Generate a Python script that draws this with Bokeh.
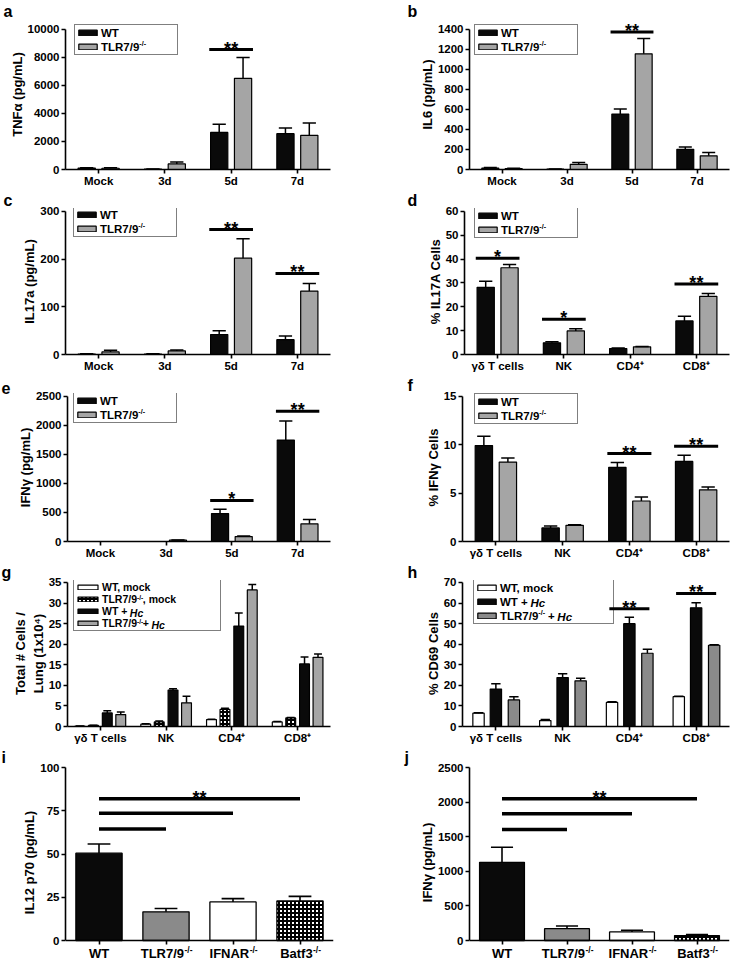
from bokeh.plotting import figure
from bokeh.layouts import column, row
from bokeh.models import Range1d, FixedTicker, Legend, LegendItem, Label
from bokeh.embed import file_html
from bokeh.resources import INLINE

# ---------------- data ----------------
time_cats = ["Mock", "3d", "5d", "7d"]
cell_cats = ["γδ T cells", "NK", "CD4⁺", "CD8⁺"]
geno_cats = ["WT", "TLR7/9", "IFNAR", "Batf3"]
geno_sup = ["", "-/-", "-/-", "-/-"]

# a  TNFα (pg/mL)
a_wt = [100, 30, 2650, 2560]
a_wt_err = [30, 10, 580, 400]
a_ko = [90, 400, 6510, 2440]
a_ko_err = [30, 130, 1490, 880]
a_sig = [(3, 8560, "**")]

# b  IL6 (pg/mL)
b_wt = [15, 3, 554, 202]
b_wt_err = [5, 1, 50, 23]
b_ko = [10, 52, 1156, 137]
b_ko_err = [3, 18, 153, 32]
b_sig = [(3, 1374, "**")]

# c  IL17a (pg/mL)
c_wt = [1, 1, 42, 31]
c_wt_err = [0.5, 0.5, 8, 8]
c_ko = [5.5, 7.5, 202, 133]
c_ko_err = [3.5, 2, 41, 16]
c_sig = [(3, 262, "**"), (4, 170, "**")]

# d  % IL17A cells
d_wt = [28.2, 4.9, 2.5, 14.1]
d_wt_err = [2.5, 0.4, 0.2, 1.9]
d_ko = [36.4, 9.9, 3.2, 24.4]
d_ko_err = [1.4, 0.9, 0.2, 1.2]
d_sig = [(1, 40.4, "*"), (2, 14.8, "*"), (4, 29.6, "**")]

# e  IFNγ (pg/mL)
e_wt = [0, 0, 481, 1748]
e_wt_err = [0, 0, 73, 328]
e_ko = [0, 22, 85, 305]
e_ko_err = [0, 5, 10, 74]
e_sig = [(3, 707, "*"), (4, 2245, "**")]

# f  % IFNγ cells
f_wt = [9.92, 1.4, 7.67, 8.28]
f_wt_err = [0.96, 0.2, 0.51, 0.65]
f_ko = [8.22, 1.67, 4.19, 5.35]
f_ko_err = [0.41, 0.07, 0.41, 0.28]
f_sig = [(3, 9.1, "**"), (4, 9.85, "**")]

# g  Total # cells / lung (1x10^4)
g_wt_mock = [0.1, 0.56, 1.68, 1.1]
g_wt_mock_err = [0.03, 0.08, 0.1, 0.1]
g_ko_mock = [0.25, 1.1, 4.15, 2.08]
g_ko_mock_err = [0.05, 0.26, 0.3, 0.1]
g_wt_hc = [3.3, 8.87, 24.4, 15.2]
g_wt_hc_err = [0.55, 0.33, 3.2, 1.7]
g_ko_hc = [2.9, 5.75, 33.2, 16.8]
g_ko_hc_err = [0.6, 1.6, 1.3, 0.8]

# h  % CD69 cells
h_wt_mock = [6.5, 2.9, 11.7, 14.5]
h_wt_mock_err = [0.2, 0.5, 0.3, 0.2]
h_wt_hc = [18.2, 23.8, 50.0, 57.7]
h_wt_hc_err = [2.6, 1.8, 3.1, 2.5]
h_ko_hc = [12.9, 22.2, 35.6, 39.5]
h_ko_hc_err = [1.5, 1.3, 2.0, 0.2]
h_sig = [(3, 57.2, "**"), (4, 64.7, "**")]

# i  IL12 p70 (pg/mL)
i_vals = [50.5, 16.6, 22.3, 22.9]
i_err = [5.3, 1.9, 1.9, 2.6]
i_sig_to = [2, 3, 4]
i_sig_y = [64.4, 73.5, 81.9]

# j  IFNγ (pg/mL)
j_vals = [1129, 171, 124, 71]
j_err = [219, 39, 24, 15]
j_sig_to = [2, 3, 4]
j_sig_y = [1605, 1833, 2048]

# ---------------- style ----------------
FONT = "Liberation Sans"
BLACK = "#0a0a0a"
GRAY = "#a5a5a5"
DGRAY = "#8a8a8a"
NB = "\u00a0"

ADV = {'T': 611, 'L': 611, 'R': 722, '7': 556, '/': 278, '9': 556, 'W': 944, ' ': 278,
       NB: 278, ',': 278, 'm': 889, 'o': 611, 'c': 556, 'k': 556, '+': 584, 'H': 722,
       'I': 278, 'F': 611, 'N': 722, 'A': 722, 'B': 722, 'a': 556, 't': 333, 'f': 333,
       '3': 556, '-': 333}


def tw(s, fs):
    return sum(ADV.get(ch, 556) for ch in s) * fs / 1000.0


MT = 19   # top border (holds the panel letter)
MB = 19   # bottom border (category labels)


def base(width, ml, mr, pad, span, ymax, ystep, ylabel, cats, cat_fs=11.5, below=0):
    """pad = px above top tick inside frame, span = px from 0 to top tick,
    below = px of frame under the zero line (axis then fixed at 0)."""
    u = ymax / span
    fh = pad + span + below
    height = MT + fh + (MB if below == 0 else 0)
    p = figure(width=width, height=height, output_backend="svg", toolbar_location=None,
               title="", tools="",
               x_range=Range1d(0.5, len(cats) + 0.5),
               y_range=Range1d(-below * u, ymax + pad * u),
               min_border_left=ml, min_border_right=mr, min_border_top=MT,
               min_border_bottom=(MB if below == 0 else 0))
    p.xgrid.visible = False
    p.ygrid.visible = False
    p.outline_line_color = None
    p.background_fill_color = "white"
    p.border_fill_color = "white"
    xa = p.xaxis[0]
    ya = p.yaxis[0]
    if below:
        xa.fixed_location = 0
    xa.ticker = FixedTicker(ticks=[k + 1 for k in range(len(cats))])
    xa.major_label_overrides = {k + 1: c for k, c in enumerate(cats)}
    ya.ticker = FixedTicker(ticks=list(range(0, ymax + 1, ystep)))
    ya.bounds = (0, ymax)
    for ax in (xa, ya):
        ax.axis_line_width = 1.6
        ax.axis_line_color = "black"
        ax.major_tick_line_width = 1.6
        ax.major_tick_line_color = "black"
        ax.major_tick_out = 4
        ax.major_tick_in = 0
        ax.minor_tick_line_color = None
        ax.major_label_text_font = FONT
        ax.major_label_text_font_style = "bold"
        ax.major_label_text_color = "black"
    xa.major_label_text_font_size = f"{cat_fs}px"
    xa.major_label_standoff = 1
    ya.major_label_text_font_size = "11.5px"
    ya.major_label_standoff = 2
    ya.axis_label = ylabel
    ya.axis_label_text_font = FONT
    ya.axis_label_text_font_style = "bold"
    ya.axis_label_text_font_size = "13px"
    ya.axis_label_text_color = "black"
    ya.axis_label_standoff = 0
    return p, fh


def letter(p, ch, offset):
    p.title.text = ch
    p.title.align = "left"
    p.title.offset = offset
    p.title.standoff = 0
    p.title.vertical_align = "bottom"
    p.title.text_font = FONT
    p.title.text_font_style = "bold"
    p.title.text_font_size = "16px"
    p.title.text_color = "black"


def bars(p, vals, errs, off, w, fill, cap, hatch=None):
    xs = [k + 1 + off for k in range(len(vals))]
    kw = dict(fill_color=fill, line_color="black", line_width=1.2)
    if hatch:
        kw.update(hatch_pattern=hatch, hatch_color="black", hatch_scale=4, hatch_weight=2)
    r = p.vbar(x=xs, width=w, top=vals, bottom=0, **kw)
    ex = [x for x, e in zip(xs, errs) if e > 0]
    y0 = [v for v, e in zip(vals, errs) if e > 0]
    y1 = [v + e for v, e in zip(vals, errs) if e > 0]
    p.segment(x0=ex, y0=y0, x1=ex, y1=y1, line_color="black", line_width=1.5)
    p.segment(x0=[x - cap for x in ex], y0=y1, x1=[x + cap for x in ex], y1=y1,
              line_color="black", line_width=1.5)
    return r


def star_text(p, x, y, txt):
    p.add_layout(Label(x=x, y=y, text=txt, text_align="center", text_baseline="alphabetic",
                       y_offset=1, text_font=FONT, text_font_style="bold",
                       text_font_size="18px", text_color="black"))


def sig(p, sigs, half=0.33):
    for c, y, txt in sigs:
        p.segment(x0=[c - half], x1=[c + half], y0=[y], y1=[y], line_width=3, line_color="black")
        star_text(p, c, y, txt)


def legend(p, fh, rends, texts, x, top, fs, lh, sp, pad, gw, gh, lw):
    n = len(rends)
    H = 2 * pad + n * lh + (n - 1) * sp
    yloc = fh - top - H
    items = [LegendItem(label=t, renderers=[r]) for t, r in zip(texts, rends)]
    leg = Legend(items=items, location=(x, yloc), orientation="vertical",
                 border_line_color="black", border_line_width=1.3,
                 background_fill_color="white", background_fill_alpha=0.0,
                 padding=pad, spacing=sp, margin=0, glyph_width=gw, glyph_height=gh,
                 label_standoff=2, label_width=lw, label_height=lh,
                 label_text_font=FONT, label_text_font_style="bold",
                 label_text_font_size=f"{fs}px", label_text_color="black",
                 label_text_baseline="middle")
    p.add_layout(leg)
    tx = x + pad + gw + 2
    cy = [yloc + pad + (n - 1 - k) * (lh + sp) + lh / 2 for k in range(n)]
    return tx, cy


def overlay(p, px, py, s, fs, style="bold"):
    # anchored at the frame's bottom-left corner (data), shifted in pixels
    p.add_layout(Label(x=p.x_range.start, y=p.y_range.start, x_offset=px, y_offset=py,
                       text=s, text_font=FONT, text_font_style=style,
                       text_font_size=f"{fs:.1f}px", text_baseline="middle",
                       text_align="left", text_color="black", level="overlay"))


def sup_label(p, x, y, fs):
    sfs = 0.62 * fs
    overlay(p, x, y + 0.33 * fs, "-/-", sfs)
    return tw("-/-", sfs) + 0.6


def two_legend(p, fh, r1, r2, x, top):
    fs = 11.5
    tx, cy = legend(p, fh, [r1, r2], ["WT", "TLR7/9"], x, top, fs, 13, 1, 1, 23, 7, 75)
    sup_label(p, tx + tw("TLR7/9", fs) + 0.5, cy[1], fs)


OFF2 = 0.18
BW2 = 0.26
CAP2 = 0.1


def two_group(p, fh, wt, wte, ko, koe, sigs, lx, ltop):
    r1 = bars(p, wt, wte, -OFF2, BW2, BLACK, CAP2)
    r2 = bars(p, ko, koe, OFF2, BW2, GRAY, CAP2)
    sig(p, sigs)
    two_legend(p, fh, r1, r2, lx, ltop)


W = 367

# ---- a ----
pa, fha = base(W, 65, 37, 10, 141, 10000, 2000, "TNFα (pg/mL)", time_cats)
two_group(pa, fha, a_wt, a_wt_err, a_ko, a_ko_err, a_sig, 9, 8)
letter(pa, "a", -62)

# ---- b ----
pb, fhb = base(W, 102, 5, 10, 141, 1400, 200, "IL6 (pg/mL)", time_cats)
two_group(pb, fhb, b_wt, b_wt_err, b_ko, b_ko_err, b_sig, 5, 8)
letter(pb, "b", -62)

# ---- c ----
pc, fhc = base(W, 65, 37, 3, 144, 300, 100, "IL17a (pg/mL)", time_cats)
two_group(pc, fhc, c_wt, c_wt_err, c_ko, c_ko_err, c_sig, 8, 1)
letter(pc, "c", -62)

# ---- d ----
pd_, fhd = base(W, 97, 5, 3, 144, 60, 10, "% IL17A Cells", cell_cats)
two_group(pd_, fhd, d_wt, d_wt_err, d_ko, d_ko_err, d_sig, 10, 2)
letter(pd_, "d", -57)

# ---- e ----
pe, fhe = base(W, 67, 37, 3, 146, 2500, 500, "IFNγ (pg/mL)", time_cats)
two_group(pe, fhe, e_wt, e_wt_err, e_ko, e_ko_err, e_sig, 6, 2)
letter(pe, "e", -66)

# ---- f ----
pf, fhf = base(W, 95, 5, 3, 146, 15, 5, "% IFNγ Cells", cell_cats)
two_group(pf, fhf, f_wt, f_wt_err, f_ko, f_ko_err, f_sig, 12, 3)
letter(pf, "f", -55)

# ---- g ----
pg, fhg = base(W, 67, 37, 2, 145, 35, 5, "Total # Cells /\nLung (1x10⁴)", cell_cats)
rg1 = bars(pg, g_wt_mock, g_wt_mock_err, -0.31, 0.15, "white", 0.06)
rg2 = bars(pg, g_ko_mock, g_ko_mock_err, -0.105, 0.15, "white", 0.06, hatch="+")
rg3 = bars(pg, g_wt_hc, g_wt_hc_err, 0.105, 0.15, BLACK, 0.06)
rg4 = bars(pg, g_ko_hc, g_ko_hc_err, 0.31, 0.15, GRAY, 0.06)
gfs = 10.5
gtx, gcy = legend(pg, fhg, [rg1, rg2, rg3, rg4],
                  ["WT, mock", "TLR7/9" + NB * 2 + ", mock", "WT +", "TLR7/9" + NB * 2 + "+"],
                  6, 2, gfs, 12, 0, 1, 25, 6, 117)
sup_label(pg, gtx + tw("TLR7/9", gfs) + 0.5, gcy[1], gfs)
overlay(pg, gtx + tw("WT + ", gfs), gcy[2], "Hc", gfs, "bold italic")
sup_label(pg, gtx + tw("TLR7/9", gfs) + 0.5, gcy[3], gfs)
overlay(pg, gtx + tw("TLR7/9" + NB * 2 + "+ ", gfs), gcy[3], "Hc", gfs, "bold italic")
letter(pg, "g", -66)

# ---- h ----
ph, fhh = base(W, 95, 5, 2, 145, 70, 10, "% CD69 Cells", cell_cats)
rh1 = bars(ph, h_wt_mock, h_wt_mock_err, -0.26, 0.17, "white", 0.07)
rh2 = bars(ph, h_wt_hc, h_wt_hc_err, 0.0, 0.17, BLACK, 0.07)
rh3 = bars(ph, h_ko_hc, h_ko_hc_err, 0.27, 0.17, DGRAY, 0.07)
sig(ph, h_sig, half=0.3)
hfs = 11.5
htx, hcy = legend(ph, fhh, [rh1, rh2, rh3],
                  ["WT, mock", "WT +", "TLR7/9" + NB * 2 + " +"],
                  11, 2, hfs, 13, 1, 1, 23, 7, 112)
overlay(ph, htx + tw("WT + ", hfs), hcy[1], "Hc", hfs, "bold italic")
sup_label(ph, htx + tw("TLR7/9", hfs) + 0.5, hcy[2], hfs)
overlay(ph, htx + tw("TLR7/9" + NB * 2 + " + ", hfs), hcy[2], "Hc", hfs, "bold italic")
letter(ph, "h", -55)


# ---- i / j ----
BELOW = 19


def geno_panel(p, vals, errs, sig_to, sig_y):
    fills = [BLACK, DGRAY, "white", "white"]
    hatches = [None, None, None, "+"]
    for k in range(len(vals)):
        xs = [k + 1]
        kw = dict(fill_color=fills[k], line_color="black", line_width=1.3)
        if hatches[k]:
            kw.update(hatch_pattern=hatches[k], hatch_color="black", hatch_scale=4, hatch_weight=2)
        p.vbar(x=xs, width=0.69, top=[vals[k]], bottom=0, **kw)
        p.segment(x0=xs, y0=[vals[k]], x1=xs, y1=[vals[k] + errs[k]], line_color="black", line_width=1.6)
        p.segment(x0=[k + 1 - 0.17], y0=[vals[k] + errs[k]], x1=[k + 1 + 0.17], y1=[vals[k] + errs[k]],
                  line_color="black", line_width=1.6)
    for t, y in zip(sig_to, sig_y):
        p.segment(x0=[1], x1=[t], y0=[y], y1=[y], line_width=3.5, line_color="black")
    star_text(p, (1 + sig_to[-1]) / 2, sig_y[-1], "**")
    fs = 13
    for k, (c, s) in enumerate(zip(geno_cats, geno_sup)):
        if s:
            full = tw(c + NB * 2, fs)
            xo = -full / 2 + tw(c, fs) + 0.4
            p.add_layout(Label(x=k + 1, y=BELOW - 9.5, x_units="data", y_units="screen", x_offset=xo,
                               text=s, text_font=FONT, text_font_style="bold",
                               text_font_size="8.5px", text_baseline="middle", text_align="left",
                               text_color="black", level="overlay"))


geno_axis = [c + (NB * 2 if s else "") for c, s in zip(geno_cats, geno_sup)]
pi, fhi = base(W, 65, 34, 2, 173, 100, 25, "IL12 p70 (pg/mL)", geno_axis, cat_fs=13, below=BELOW)
geno_panel(pi, i_vals, i_err, i_sig_to, i_sig_y)
letter(pi, "i", -64)

pj, fhj = base(W, 102, 5, 2, 173, 2500, 500, "IFNγ (pg/mL)", geno_axis, cat_fs=13, below=BELOW)
geno_panel(pj, j_vals, j_err, j_sig_to, j_sig_y)
letter(pj, "j", -65)

layout = column(row(pa, pb), row(pc, pd_), row(pe, pf), row(pg, ph), row(pi, pj))
open("out.html", "w").write(file_html(layout, INLINE))
